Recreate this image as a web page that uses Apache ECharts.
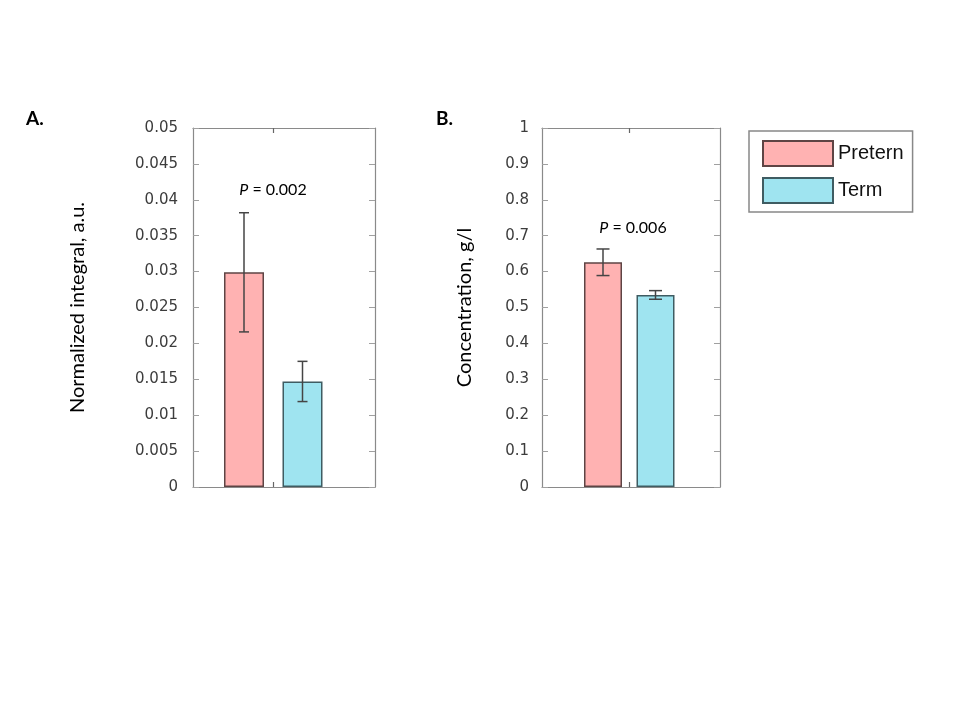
<!DOCTYPE html>
<html lang="en">
<head>
<meta charset="UTF-8">
<title>Pretern vs Term</title>
<script src="https://cdn.jsdelivr.net/npm/echarts@6.0.0/dist/echarts.min.js"></script>
</head>
<body style="margin:0;background:#fff">
<div id="container" style="width:960px;height:720px;"></div>
<script>
// data
var groups = ['Pretern', 'Term'];
var integralMean = [0.0299, 0.0147];
var integralErr = [0.0083, 0.0028];
var concMean = [0.626, 0.535];
var concErr = [0.037, 0.012];
var pValues = ['0.002', '0.006'];
var yNames = ['Normalized integral, a.u.', 'Concentration, g/l'];
var yMax = [0.05, 1];
var yStep = [0.005, 0.1];
var letters = ['A.', 'B.'];

var colors = ['#ffb2b2', '#9fe4f0'];
var borders = ['#5e4444', '#3f5c62'];

// layout per panel (pixels)
var panels = [
    { frame: { left: 193, top: 128, width: 182, height: 359 }, bars: { left: 214.75, width: 117 },
      barWidth: 40, cap: 5, nameGap: 105, labelMargin: 15, letterAt: [26, 109], pAt: [273, 190],
      mean: integralMean, err: integralErr },
    { frame: { left: 542, top: 128, width: 178, height: 359 }, bars: { left: 576.75, width: 105 },
      barWidth: 38, cap: 6.5, nameGap: 67, labelMargin: 13, letterAt: [436, 109], pAt: [633, 228],
      mean: concMean, err: concErr }
];

var axisGray = '#8a8a8a';

function errorBar(cap) {
    return function (params, api) {
        var x = api.value(0);
        var lo = api.coord([x, api.value(1)]);
        var hi = api.coord([x, api.value(2)]);
        var st = { stroke: '#454545', lineWidth: 1.5 };
        return {
            type: 'group',
            children: [
                { type: 'line', shape: { x1: lo[0], y1: lo[1], x2: hi[0], y2: hi[1] }, style: st },
                { type: 'line', shape: { x1: lo[0] - cap, y1: lo[1], x2: lo[0] + cap, y2: lo[1] }, style: st },
                { type: 'line', shape: { x1: hi[0] - cap, y1: hi[1], x2: hi[0] + cap, y2: hi[1] }, style: st }
            ]
        };
    };
}

var grid = [], xAxis = [], yAxis = [], series = [], graphic = [];

panels.forEach(function (p, k) {
    var g0 = grid.length;
    grid.push({ left: p.frame.left, top: p.frame.top, width: p.frame.width, height: p.frame.height });
    grid.push({ left: p.bars.left, top: p.frame.top, width: p.bars.width, height: p.frame.height });

    var mid = (p.bars.left + p.bars.width / 2 - p.frame.left) / p.frame.width;
    ['bottom', 'top'].forEach(function (pos) {
        xAxis.push({
            type: 'value', gridIndex: g0, position: pos, min: 0, max: 1,
            axisLine: { onZero: false, lineStyle: { color: axisGray, width: 1.2 } },
            axisTick: { show: true, inside: true, length: 5, customValues: [mid], lineStyle: { color: '#666', width: 1.2 } },
            axisLabel: { show: false }, splitLine: { show: false }
        });
    });
    var xi = xAxis.length;
    xAxis.push({ type: 'category', gridIndex: g0 + 1, data: groups, show: false });

    var yBase = { type: 'value', gridIndex: g0, min: 0, max: yMax[k], interval: yStep[k], splitLine: { show: false } };
    yAxis.push(Object.assign({}, yBase, {
        position: 'left',
        axisLine: { show: true, onZero: false, lineStyle: { color: axisGray, width: 1.2 } },
        axisTick: { show: true, inside: true, length: 6, lineStyle: { color: '#a0a0a0' } },
        axisLabel: { margin: p.labelMargin, color: '#3c3c3c', fontFamily: 'DejaVu Sans', fontSize: 15 },
        name: yNames[k], nameLocation: 'middle', nameGap: p.nameGap,
        nameTextStyle: { fontFamily: 'Lato', fontSize: 20, color: '#000' }
    }));
    yAxis.push(Object.assign({}, yBase, {
        position: 'right',
        axisLine: { show: true, onZero: false, lineStyle: { color: axisGray, width: 1.2 } },
        axisTick: { show: true, inside: true, length: 6, lineStyle: { color: '#a0a0a0' } },
        axisLabel: { show: false }
    }));
    var yi = yAxis.length;
    yAxis.push(Object.assign({}, yBase, { gridIndex: g0 + 1, show: false }));

    groups.forEach(function (name, i) {
        var d = groups.map(function (_, j) { return j === i ? p.mean[i] : '-'; });
        series.push({
            type: 'bar', name: name, xAxisIndex: xi, yAxisIndex: yi, data: d,
            barWidth: p.barWidth, barGap: '-100%',
            itemStyle: { color: colors[i], borderColor: borders[i], borderWidth: 1.5 }
        });
    });
    series.push({
        type: 'custom', xAxisIndex: xi, yAxisIndex: yi, z: 5,
        renderItem: errorBar(p.cap),
        encode: { x: 0, y: [1, 2] },
        data: p.mean.map(function (m, i) { return [i, m - p.err[i], m + p.err[i]]; })
    });

    graphic.push({
        type: 'text', x: p.letterAt[0], y: p.letterAt[1],
        style: { text: letters[k], font: 'bold 19px Lato', fill: '#000' }
    });
    graphic.push({
        type: 'text', x: p.pAt[0], y: p.pAt[1],
        style: {
            text: '{i|P} = ' + pValues[k], align: 'center', verticalAlign: 'middle',
            font: '16px Lato', fill: '#000',
            rich: { i: { fontStyle: 'italic', fontFamily: 'Lato', fontSize: 16 } }
        }
    });
});

var chart = echarts.init(document.getElementById('container'), null, { renderer: 'canvas' });
chart.setOption({
    animation: false,
    backgroundColor: '#fff',
    grid: grid,
    xAxis: xAxis,
    yAxis: yAxis,
    series: series,
    graphic: graphic,
    legend: {
        data: groups, orient: 'vertical', left: 749, top: 131,
        icon: 'rect', itemWidth: 70, itemHeight: 25, itemGap: 10,
        padding: [9, 9, 8, 13], borderColor: '#888', borderWidth: 1.5,
        selectedMode: false,
        textStyle: { fontFamily: 'Liberation Sans', fontSize: 20, color: '#111' }
    }
});
</script>
</body>
</html>
